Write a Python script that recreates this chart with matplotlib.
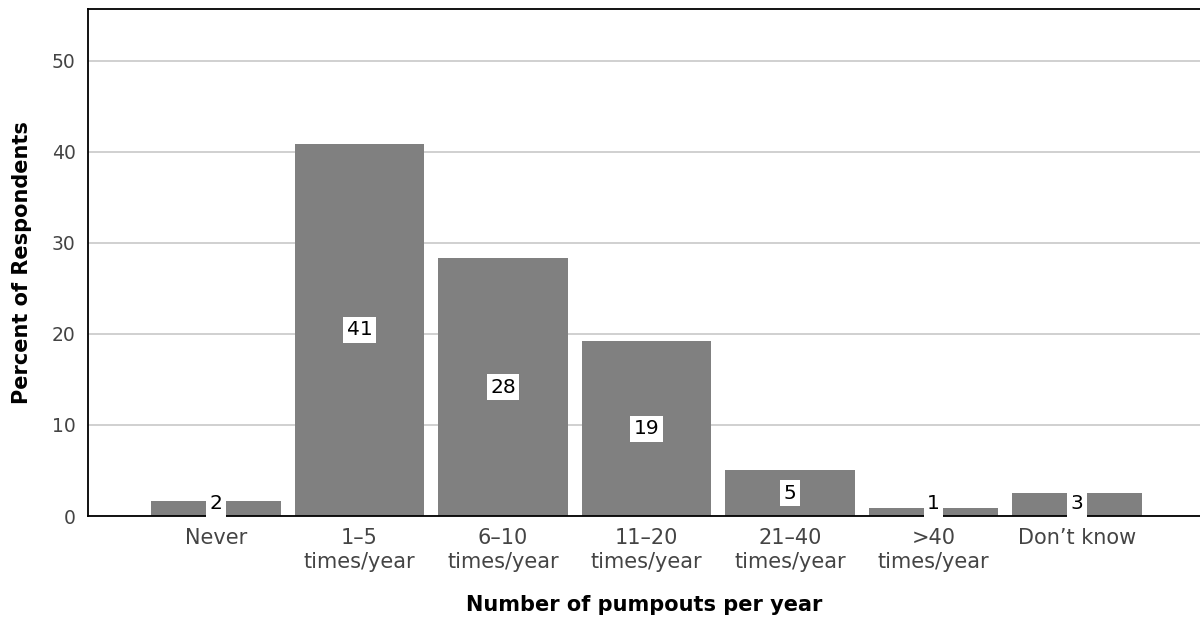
import numpy as np
import matplotlib.pyplot as plt

# data
categories = ['Never', '1\u20135\ntimes/year', '6\u201310\ntimes/year', '11\u201320\ntimes/year',
              '21\u201340\ntimes/year', '>40\ntimes/year', 'Don\u2019t know']
percents = [1.7, 40.9, 28.3, 19.2, 5.0, 0.9, 2.5]
labels = ['2', '41', '28', '19', '5', '1', '3']

plt.rcParams['font.family'] = ['DejaVu Sans']

fig = plt.figure(figsize=(12, 6.19), dpi=100)
ax = fig.add_axes([88 / 1200, 1 - 516 / 619, 1112 / 1200, 507 / 619])

x = np.arange(len(categories))
bars = ax.bar(x, percents, width=0.9, color='#808080', zorder=2)

# value labels sit mid-bar, but not lower than just above the baseline
for xi, v, lab in zip(x, percents, labels):
    ax.text(xi, max(v / 2, 1.35), lab, ha='center', va='center', fontsize=14.5, color='black',
            zorder=3, bbox=dict(facecolor='white', edgecolor='none', pad=2.5))

ax.set_xlim(-0.892, 6.857)
ax.set_ylim(0, 55.7)
ax.set_yticks([0, 10, 20, 30, 40, 50])
ax.set_xticks(x)
ax.set_xticklabels(categories, fontsize=15, color='#444444', linespacing=1.2)
ax.tick_params(axis='y', labelsize=13.5, labelcolor='#444444', length=0, pad=9)
ax.tick_params(axis='x', length=0, pad=9)

ax.grid(axis='y', color='#c8c8c8', linewidth=1.2, zorder=0)
ax.set_axisbelow(True)
ax.spines['right'].set_visible(False)
for s in ['left', 'bottom', 'top']:
    ax.spines[s].set_color('black')
    ax.spines[s].set_linewidth(1.3)

ax.set_xlabel('Number of pumpouts per year', fontsize=15, fontweight='bold', labelpad=17)
ax.set_ylabel('Percent of Respondents', fontsize=15, fontweight='bold', labelpad=14)

fig.savefig('out.png', dpi=100)
